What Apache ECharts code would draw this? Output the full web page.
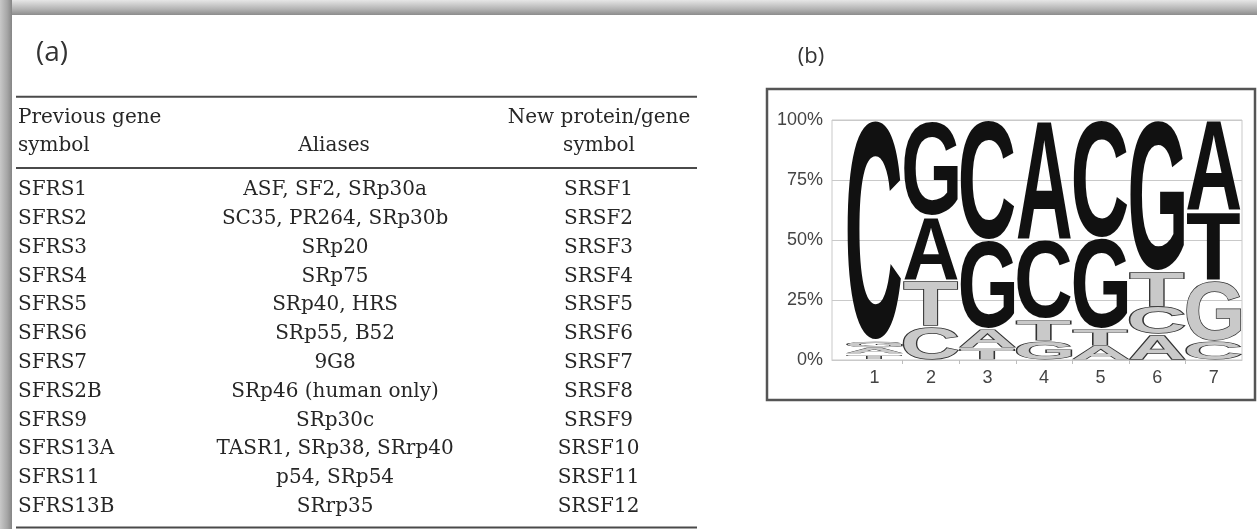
<!DOCTYPE html>
<html>
<head>
<meta charset="utf-8">
<script src="https://cdn.jsdelivr.net/npm/echarts@6/dist/echarts.min.js"></script>
<style>
  html, body { margin: 0; padding: 0; background: #ffffff; }
  #chart { width: 1257px; height: 529px; }
</style>
</head>
<body>
<div id="chart"></div>
<script>
// ---- (a) SR protein nomenclature table ----
const prevSymbols = ['SFRS1', 'SFRS2', 'SFRS3', 'SFRS4', 'SFRS5', 'SFRS6', 'SFRS7', 'SFRS2B', 'SFRS9', 'SFRS13A', 'SFRS11', 'SFRS13B'];
const aliases = ['ASF, SF2, SRp30a', 'SC35, PR264, SRp30b', 'SRp20', 'SRp75', 'SRp40, HRS', 'SRp55, B52', '9G8', 'SRp46 (human only)', 'SRp30c', 'TASR1, SRp38, SRrp40', 'p54, SRp54', 'SRrp35'];
const newSymbols = ['SRSF1', 'SRSF2', 'SRSF3', 'SRSF4', 'SRSF5', 'SRSF6', 'SRSF7', 'SRSF8', 'SRSF9', 'SRSF10', 'SRSF11', 'SRSF12'];
const headerPrev = ['Previous gene', 'symbol'];
const headerAliases = ['Aliases'];
const headerNew = ['New protein/gene', 'symbol'];

// ---- (b) motif logo: base frequency (%) at each position ----
const positions = [1, 2, 3, 4, 5, 6, 7];
const bases = ['A', 'C', 'G', 'T'];
const pctA = [2.7, 27, 8, 50, 6, 10.5, 38];
const pctC = [91.7, 14, 50, 33, 49, 11.5, 8];
const pctG = [3.2, 40, 37, 8, 38, 63, 25];
const pctT = [2.4, 19, 5, 9, 7, 15, 29];
const yTicks = [0, 25, 50, 75, 100];

const basePct = { A: pctA, C: pctC, G: pctG, T: pctT };

// Stack the bases of every position, smallest at the bottom.
const stacks = [];
positions.forEach((pos, i) => {
  const order = bases.slice().sort((a, b) => basePct[a][i] - basePct[b][i]);
  let acc = 0;
  order.forEach(b => {
    const v = basePct[b][i];
    stacks.push([pos, acc, acc + v, bases.indexOf(b), v]);
    acc += v;
  });
});

// Glyph extents of the logo letters, so each one can be stretched to fill its box.
const LOGO_FONT = 'bold 100px "Liberation Sans", Arial, sans-serif';
const mctx = document.createElement('canvas').getContext('2d');
mctx.font = LOGO_FONT;
mctx.textBaseline = 'middle';
mctx.textAlign = 'left';
const glyph = {};
bases.forEach(b => {
  const m = mctx.measureText(b);
  glyph[b] = { l: m.actualBoundingBoxLeft, r: m.actualBoundingBoxRight, a: m.actualBoundingBoxAscent, d: m.actualBoundingBoxDescent };
});

const BLACK_FROM = 26;   // bases at or above this share are drawn solid black
const LETTER_HALF = 0.475;

function renderLetter(params, api) {
  const pos = api.value(0), lo = api.value(1), hi = api.value(2);
  const b = bases[api.value(3)];
  const pct = api.value(4);
  const left = api.coord([pos - LETTER_HALF, 0])[0];
  const right = api.coord([pos + LETTER_HALF, 0])[0];
  const yb = api.coord([pos, lo])[1] - 1;
  const yt = api.coord([pos, hi])[1] + 1;
  const h = yb - yt, w = right - left;
  if (h < 0.8) return null;
  const g = glyph[b];
  const sx = w / (g.l + g.r);
  const sy = h / (g.a + g.d);
  const dark = pct >= BLACK_FROM;
  const lw = Math.min(1.5 / sy, 3.2 / sx);
  return {
    type: 'text',
    x: left + g.l * sx,
    y: yt + g.a * sy,
    scaleX: sx,
    scaleY: sy,
    silent: true,
    style: {
      text: b,
      x: 0,
      y: 0,
      font: LOGO_FONT,
      align: 'left',
      verticalAlign: 'middle',
      fill: dark ? '#111111' : '#c9c9c9',
      stroke: dark ? null : '#333333',
      lineWidth: dark ? 0 : lw
    }
  };
}

// Table cell anchors within the table grid (fractions of its width).
const COL_ANCHOR = [0.0, 0.467, 0.855];
const SERIF = '"DejaVu Serif", "Liberation Serif", serif';
const CELL_COLOR = '#262626';

function renderRow(params, api) {
  const row = api.value(0);
  const y = api.coord([0, row])[1];
  const x0 = api.coord([COL_ANCHOR[0], row])[0];
  const x1 = api.coord([COL_ANCHOR[1], row])[0];
  const x2 = api.coord([COL_ANCHOR[2], row])[0];
  const mk = (x, t, align) => ({
    type: 'text', x: x, y: y, silent: true,
    style: { text: t, fontFamily: SERIF, fontSize: 20, fill: CELL_COLOR, align: align, verticalAlign: 'middle' }
  });
  return {
    type: 'group',
    children: [
      mk(x0, prevSymbols[row], 'left'),
      mk(x1, aliases[row], 'center'),
      mk(x2, newSymbols[row], 'center')
    ]
  };
}

const headerText = (x, y, t, align) => ({
  type: 'text', x: x, y: y, silent: true,
  style: { text: t, fontFamily: SERIF, fontSize: 20, fill: CELL_COLOR, align: align, verticalAlign: 'middle' }
});
const rule = (y) => ({
  type: 'line', silent: true,
  shape: { x1: 16, y1: y, x2: 697, y2: y },
  style: { stroke: '#4a4a4a', lineWidth: 2 }
});

const chart = echarts.init(document.getElementById('chart'), null, { renderer: 'canvas' });

chart.setOption({
  backgroundColor: '#ffffff',
  animation: false,
  grid: [
    {
      left: 832, right: 15, top: 120, height: 240,
      show: true, borderColor: '#c9c9c9', borderWidth: 1, backgroundColor: 'transparent'
    },
    { left: 18, right: 560, top: 175.6, bottom: 7.8 }
  ],
  xAxis: [
    {
      type: 'value', gridIndex: 0, min: 0.25, max: 7.5,
      splitLine: { show: false },
      axisLine: { show: true, lineStyle: { color: '#c9c9c9' } },
      axisTick: { show: true, length: 4, customValues: [1.5, 2.5, 3.5, 4.5, 5.5, 6.5], lineStyle: { color: '#bdbdbd' } },
      axisLabel: {
        customValues: positions, margin: 9,
        fontFamily: '"Liberation Sans", Arial, sans-serif', fontSize: 18, color: '#444444'
      }
    },
    { type: 'value', gridIndex: 1, min: 0, max: 1, show: false }
  ],
  yAxis: [
    {
      type: 'value', gridIndex: 0, min: 0, max: 100, interval: 25,
      axisLine: { show: false },
      axisTick: { show: false },
      splitLine: { show: true, lineStyle: { color: '#c9c9c9', width: 1 } },
      axisLabel: {
        customValues: yTicks, formatter: '{value}%', margin: 9,
        fontFamily: '"Liberation Sans", Arial, sans-serif', fontSize: 18, color: '#444444'
      }
    },
    { type: 'category', gridIndex: 1, data: prevSymbols, inverse: true, show: false }
  ],
  series: [
    {
      type: 'custom', name: 'logo', xAxisIndex: 0, yAxisIndex: 0,
      renderItem: renderLetter, data: stacks, silent: true, clip: false
    },
    {
      type: 'custom', name: 'table', xAxisIndex: 1, yAxisIndex: 1,
      renderItem: renderRow, data: prevSymbols.map((s, i) => [i]), silent: true
    }
  ],
  graphic: [
    // frame shading along the top and left edges
    {
      type: 'rect', silent: true, z: 100,
      shape: { x: 0, y: 0, width: 1257, height: 15 },
      style: { fill: new echarts.graphic.LinearGradient(0, 0, 0, 1, [
        { offset: 0, color: '#e6e6e6' }, { offset: 0.6, color: '#b4b4b4' }, { offset: 1, color: '#8c8c8c' }
      ]) }
    },
    {
      type: 'rect', silent: true, z: 100,
      shape: { x: 0, y: 0, width: 12, height: 529 },
      style: { fill: new echarts.graphic.LinearGradient(0, 0, 1, 0, [
        { offset: 0, color: '#c8c8c8' }, { offset: 0.6, color: '#a6a6a6' }, { offset: 1, color: '#858585' }
      ]) }
    },
    // panel labels
    {
      type: 'text', x: 52, y: 53, silent: true,
      style: { text: '(a)', fontFamily: '"Open Sans", sans-serif', fontSize: 28, fill: '#333333', align: 'center', verticalAlign: 'middle' }
    },
    {
      type: 'text', x: 811, y: 57, silent: true,
      style: { text: '(b)', fontFamily: '"Open Sans", sans-serif', fontSize: 22, fill: '#333333', align: 'center', verticalAlign: 'middle' }
    },
    // table rules and header
    rule(96.7), rule(168), rule(527.5),
    headerText(18, 118, headerPrev[0], 'left'),
    headerText(18, 146, headerPrev[1], 'left'),
    headerText(334, 146, headerAliases[0], 'center'),
    headerText(599, 118, headerNew[0], 'center'),
    headerText(599, 146, headerNew[1], 'center'),
    // logo panel frame
    {
      type: 'rect', silent: true,
      shape: { x: 767, y: 89, width: 488, height: 311 },
      style: { fill: 'none', stroke: '#555555', lineWidth: 2.5 }
    }
  ]
});
</script>
</body>
</html>
